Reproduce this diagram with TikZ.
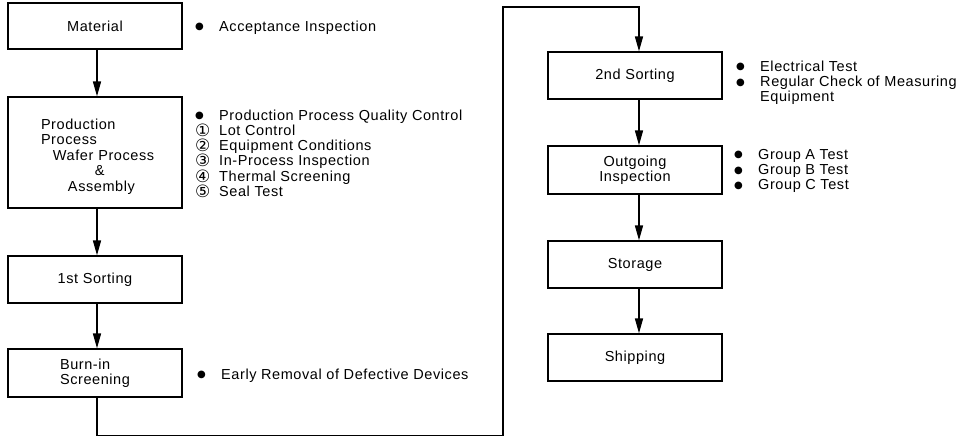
\documentclass[tikz,border=0pt]{standalone}
\usepackage{fontspec}
\setmainfont{Liberation Sans}[LetterSpace=4]
\newfontfamily\symfont{DejaVu Sans}
\usetikzlibrary{arrows.meta}
\newcommand{\bul}{\makebox[24pt][l]{\raisebox{1.2pt}{\symfont\fontsize{10}{10}\selectfont ●}}}
\newcommand{\cnum}[1]{\makebox[24pt][l]{\smash{\raisebox{-0.9pt}{\symfont\fontsize{17}{15.3}\selectfont #1}}}}
\begin{document}
\begin{tikzpicture}[x=1pt,y=-1pt,
  font=\fontsize{14.5}{15.3}\selectfont,
  box/.style={draw, line width=1.3pt, minimum width=174pt, inner sep=0pt, align=center,
    font=\fontsize{14.5}{14.5}\selectfont},
  arr/.style={line width=1.6pt, -{Triangle[length=15pt,width=8pt]}},
  ann/.style={anchor=base west, inner sep=0pt}]
\useasboundingbox (0,0) rectangle (967,437);

% left column
\node[box, minimum height=46pt] (mat) at (95,26) {Material};
\node[box, minimum height=111pt, text width=108pt, align=left,
  font=\fontsize{14.5}{15.5}\selectfont] (prod) at (95,152.5)
  {\mbox{\rule{0pt}{19pt}Production}\\\mbox{Process}\\\mbox{\hspace*{12pt}Wafer Process}\\\mbox{\hspace*{54pt}\&}\\\mbox{\hspace*{27pt}Assembly}};
\node[box, minimum height=47pt] (s1) at (95,279.5) {1st Sorting};
\node[box, minimum height=48pt, align=left, font=\fontsize{14.5}{15}\selectfont] (bi) at (95,373) {Burn-in\\Screening};

% right column
\node[box, minimum height=47pt] (s2) at (635,75.5) {2nd Sorting};
\node[box, minimum height=48pt] (og) at (635,170) {Outgoing\\Inspection};
\node[box, minimum height=47pt] (st) at (635,264.5) {Storage};
\node[box, minimum height=47pt] (sh) at (635,357.5) {Shipping};

% connectors
\draw[arr] ([xshift=2pt]mat.south) -- ([xshift=2pt]prod.north);
\draw[arr] ([xshift=2pt]prod.south) -- ([xshift=2pt]s1.north);
\draw[arr] ([xshift=2pt]s1.south) -- ([xshift=2pt]bi.north);
\coordinate (c2) at (503,435.5);
\coordinate (c3) at (503,7);
\coordinate (c4) at (639,7);
\draw[arr, line join=miter] ([xshift=2pt]bi.south) |- (c2) -- (c3) -- (c4) -- ([xshift=4pt]s2.north);
\draw[arr] ([xshift=4pt]s2.south) -- ([xshift=4pt]og.north);
\draw[arr] ([xshift=4pt]og.south) -- ([xshift=4pt]st.north);
\draw[arr] ([xshift=4pt]st.south) -- ([xshift=4pt]sh.north);

% annotations
\node[ann] (a1) at (195,31) {\begin{tabular}[t]{@{}l@{}l@{}}\bul & Acceptance Inspection\end{tabular}};
\node[ann] (a2) at (195,120) {\begin{tabular}[t]{@{}l@{}l@{}}
  \bul & Production Process Quality Control\\
  \cnum{①} & Lot Control\\
  \cnum{②} & Equipment Conditions\\
  \cnum{③} & In-Process Inspection\\
  \cnum{④} & Thermal Screening\\
  \cnum{⑤} & Seal Test\end{tabular}};
\node[ann] (a3) at (197,379) {\begin{tabular}[t]{@{}l@{}l@{}}\bul & Early Removal of Defective Devices\end{tabular}};
\node[ann] (a4) at (736,71) {\begin{tabular}[t]{@{}l@{}l@{}}
  \bul & Electrical Test\\
  \bul & Regular Check of Measuring\\
  & Equipment\end{tabular}};
\node[ann] (a5) at (734,159) {\begin{tabular}[t]{@{}l@{}l@{}}
  \bul & Group A Test\\
  \bul & Group B Test\\
  \bul & Group C Test\end{tabular}};
\end{tikzpicture}
\end{document}
